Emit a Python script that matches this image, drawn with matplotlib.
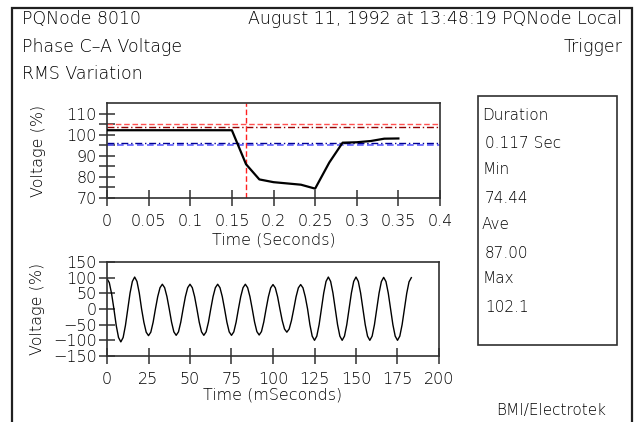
import numpy as np
import matplotlib
matplotlib.use("Agg")
import matplotlib.pyplot as plt
from matplotlib.patches import Rectangle

W, H = 634, 422

# RMS variation (top plot)
rms_t = [0.0, 0.15, 0.167, 0.183, 0.2, 0.233, 0.25, 0.267, 0.283, 0.3, 0.317, 0.333, 0.35]
rms_v = [102.1, 102.1, 86.0, 78.8, 77.5, 76.3, 74.44, 86.8, 96.2, 96.4, 97.0, 98.1, 98.2]
upper_limits = [105.0, 103.7]
lower_limits = [95.0, 96.1]
trigger_t = 0.167

# sampled waveform (bottom plot), 12 samples per 60 Hz cycle
sample_ms = 1000.0 / 60 / 12
wave_v = [
    97, 84, 48.5, 0, -52.5, -91, -105,
    -91, -52.5, 0, 51, 88, 102,
    88, 51, 0, -42.5, -74, -85,
    -74, -42.5, 0, 39.5, 68, 79,
    68, 39.5, 0, -42, -73, -84,
    -73, -42, 0, 39.5, 68, 79,
    68, 39.5, 0, -42, -73, -84,
    -73, -42, 0, 39.5, 68, 79,
    68, 39.5, 0, -42, -73, -84,
    -73, -42, 0, 39.5, 68, 79,
    68, 39.5, 0, -41.5, -72, -83,
    -72, -41.5, 0, 39, 67.5, 78,
    67.5, 39, 0, -37, -64, -74,
    -64, -37, 0, 39, 67.5, 78,
    67.5, 39, 0, -50, -86.6, -100,
    -86.6, -50, 0, 51, 88, 102,
    88, 51, 0, -50, -86.6, -100,
    -86.6, -50, 0, 51, 88, 102,
    88, 51, 0, -50, -86.6, -100,
    -86.6, -50, 0, 50.5, 87.5, 101,
    87.5, 50.5, 0, -50, -86.6, -100,
    -86.6, -50, 0, 50, 86.6, 100,
]
wave_t = np.arange(len(wave_v)) * sample_ms

stat_names = ["Duration", "Min", "Ave", "Max"]
stat_values = ["0.117 Sec", "74.44", "87.00", "102.1"]

plt.rcParams['font.family'] = ['DejaVu Sans']
plt.rcParams['font.weight'] = 'light'
plt.rcParams['axes.labelweight'] = 'light'

fig = plt.figure(figsize=(W / 100, H / 100), dpi=100)
fig.patch.set_facecolor("white")


def box(l, t, r, b):
    return [l / W, 1 - b / H, (r - l) / W, (b - t) / H]


def ftext(x, y, s, **kw):
    fig.text(x / W, 1 - y / H, s, va="center", color="black", **kw)


# outer frame and stats box
fig.add_artist(Rectangle((12 / W, -0.05), 620 / W, 1.05 - 8 / H, transform=fig.transFigure,
                         fill=False, lw=1.6, ec="#202020"))
fig.add_artist(Rectangle((478 / W, 1 - 345 / H), 139 / W, 249 / H, transform=fig.transFigure,
                         fill=False, lw=1.2, ec="#303030"))

# header
ftext(22, 19, "PQNode 8010", fontsize=12.5)
ftext(622, 19, "August 11, 1992 at 13:48:19 PQNode Local", fontsize=12.5, ha="right")
ftext(22, 47, "Phase C\u2013A Voltage", fontsize=12.5)
ftext(622, 47, "Trigger", fontsize=12.5, ha="right")
ftext(22, 74, "RMS Variation", fontsize=12.5)

# stats
for i, (n, v) in enumerate(zip(stat_names, stat_values)):
    ftext(482, 115 + i * 54.5, n, fontsize=11)
    ftext(485, 144 + i * 54.5, v, fontsize=11)

ftext(496, 410, "BMI/Electrotek", fontsize=11)


def style(ax):
    for s in ax.spines.values():
        s.set_linewidth(1.2)
        s.set_color("#303030")
    ax.tick_params(which="both", direction="inout", length=11, width=1.1,
                   labelsize=11.5, color="#303030", pad=2)


# top: RMS plot
ax1 = fig.add_axes(box(107, 103, 440, 198))
style(ax1)
ax1.plot(rms_t, rms_v, color="black", lw=1.6, zorder=5)
ax1.axhline(upper_limits[0], color="#ff5050", lw=1.0, ls=(0, (4, 2)))
ax1.axhline(upper_limits[1], color="#900000", lw=1.0, ls=(0, (5, 2, 1, 2)))
ax1.axhline(lower_limits[0], color="#6060ff", lw=1.2, ls=(0, (4, 2)))
ax1.axhline(lower_limits[1], color="#000090", lw=1.0, ls=(0, (5, 2, 1, 2)))
ax1.axvline(trigger_t, color="#ff2020", lw=1.0, ls=(0, (4, 2)))
ax1.set_xlim(0, 0.4)
ax1.set_ylim(70, 115)
ax1.set_xticks(np.arange(0, 0.41, 0.05))
ax1.set_xticklabels(["0", "0.05", "0.1", "0.15", "0.2", "0.25", "0.3", "0.35", "0.4"])
ax1.set_yticks([70, 80, 90, 100, 110])
ax1.set_yticks([75, 85, 95, 105], minor=True)
ax1.tick_params(axis="x", pad=6)
ax1.set_xlabel("Time (Seconds)", fontsize=11.5, va="center")
ax1.set_ylabel("Voltage (%)", fontsize=11.5, va="center")
ax1.xaxis.set_label_coords(0.5, -0.44)
ax1.yaxis.set_label_coords(-0.207, 0.5)

# bottom: waveform
ax2 = fig.add_axes(box(107, 262, 439, 356))
style(ax2)
ax2.plot(wave_t, wave_v, color="black", lw=1.0)
ax2.set_xlim(0, 200)
ax2.set_ylim(-150, 150)
ax2.set_xticks(np.arange(0, 201, 25))
ax2.set_yticks(np.arange(-150, 151, 50))
ax2.tick_params(axis="x", pad=6)
ax2.set_xlabel("Time (mSeconds)", fontsize=11.5, va="center")
ax2.set_ylabel("Voltage (%)", fontsize=11.5, va="center")
ax2.xaxis.set_label_coords(0.5, -0.415)
ax2.yaxis.set_label_coords(-0.208, 0.5)

fig.savefig("out.png", dpi=100)
